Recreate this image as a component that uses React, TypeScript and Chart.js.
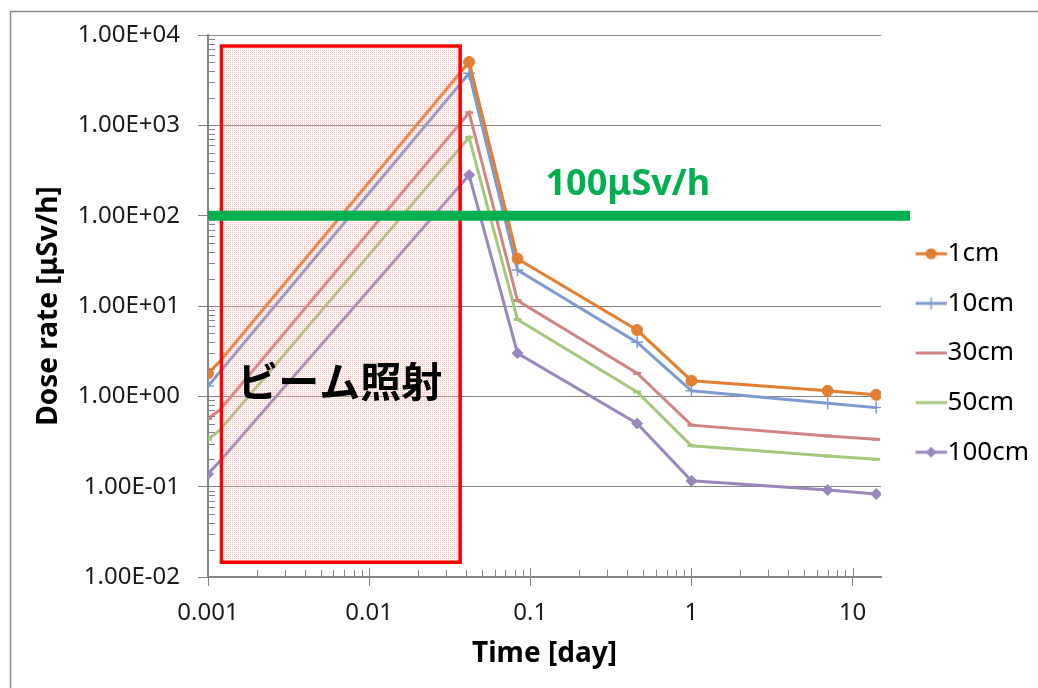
import React, { useEffect, useRef } from "react";
import { Chart, registerables } from "chart.js";

Chart.register(...registerables);

// ---------- data ----------
const TIMES = [0.001, 0.00118, 0.0417, 0.0833, 0.46, 1, 7, 14];
const SERIES_LABELS = ["1cm", "10cm", "30cm", "50cm", "100cm"];
const DOSE_1CM = [1.8, 2.42, 5020, 33.4, 5.42, 1.49, 1.15, 1.04];
const DOSE_10CM = [1.3, 1.85, 3770, 25, 3.96, 1.15, 0.84, 0.75];
const DOSE_30CM = [0.57, 0.7, 1380, 11.5, 1.8, 0.48, 0.364, 0.334];
const DOSE_50CM = [0.334, 0.42, 737, 7.1, 1.12, 0.284, 0.218, 0.201];
const DOSE_100CM = [0.138, 0.19, 282, 3.0, 0.5, 0.116, 0.092, 0.083];
const SERIES_VALUES = [DOSE_1CM, DOSE_10CM, DOSE_30CM, DOSE_50CM, DOSE_100CM];

const X_TICKS = [0.001, 0.01, 0.1, 1, 10];
const Y_TICKS = [0.01, 0.1, 1, 10, 100, 1000, 10000];

// ---------- annotations ----------
const BEAM_START = 0.001212;
const BEAM_END = 0.0367;
const BEAM_TOP = 7550;
const BEAM_BOTTOM = 0.01455;
const BEAM_LABEL = "ビーム照射";
const BEAM_LABEL_POS = { x: 0.00657, y: 1.48 };
const LIMIT_VALUE = 100;
const LIMIT_END = 22.7;
const LIMIT_LABEL = "100μSv/h";
const LIMIT_LABEL_POS = { x: 0.403, y: 218 };

// ---------- styles ----------
const COLORS = ["#E27F33", "#7E9BD0", "#D08584", "#A6C77E", "#9A88BD"];
const POINT_STYLES = ["circle", "cross", "line", "line", "rectRot"];
const POINT_RADII = [5.5, 6, 4, 4, 5.5];
const AXIS_GRAY = "#868686";
const FONT = "'Noto Sans', 'DejaVu Sans', sans-serif";

function fmtSci(v: number): string {
  const e = Math.round(Math.log10(v));
  const m = v / Math.pow(10, e);
  const sign = e < 0 ? "-" : "+";
  const a = Math.abs(e);
  return m.toFixed(2) + "E" + sign + (a < 10 ? "0" + a : String(a));
}

function makeLegendIcon(i: number): HTMLCanvasElement {
  const c = document.createElement("canvas");
  c.width = 54;
  c.height = 16;
  const g = c.getContext("2d")!;
  const col = COLORS[i];
  g.strokeStyle = col;
  g.fillStyle = col;
  g.lineWidth = 3;
  g.beginPath();
  g.moveTo(23, 8);
  g.lineTo(54, 8);
  g.stroke();
  const cx = 38.5;
  const cy = 8;
  if (POINT_STYLES[i] === "circle") {
    g.beginPath();
    g.arc(cx, cy, 5.5, 0, Math.PI * 2);
    g.fill();
  } else if (POINT_STYLES[i] === "cross") {
    g.lineWidth = 1.5;
    g.beginPath();
    g.moveTo(cx, cy - 6);
    g.lineTo(cx, cy + 6);
    g.stroke();
  } else if (POINT_STYLES[i] === "rectRot") {
    g.beginPath();
    g.moveTo(cx, cy - 5.5);
    g.lineTo(cx + 5.5, cy);
    g.lineTo(cx, cy + 5.5);
    g.lineTo(cx - 5.5, cy);
    g.closePath();
    g.fill();
  }
  return c;
}

export default function App() {
  const canvasRef = useRef<HTMLCanvasElement | null>(null);

  useEffect(() => {
    document.body.style.margin = "0";
    const canvas = canvasRef.current;
    if (!canvas) return;

    const pc = document.createElement("canvas");
    pc.width = 2;
    pc.height = 2;
    const pg = pc.getContext("2d")!;
    pg.fillStyle = "rgba(252,200,200,0.18)";
    pg.fillRect(0, 0, 2, 2);
    pg.fillStyle = "rgba(240,110,110,0.42)";
    pg.fillRect(0, 0, 1, 1);

    const icons = SERIES_LABELS.map((_, i) => makeLegendIcon(i));

    const datasets = SERIES_LABELS.map((label, i) => ({
      label,
      data: TIMES.map((t, j) => ({ x: t, y: SERIES_VALUES[i][j] })),
      borderColor: COLORS[i],
      backgroundColor: COLORS[i],
      borderWidth: 3,
      pointStyle: POINT_STYLES[i] as any,
      pointRadius: TIMES.map((_, j) => (j === 1 ? 0 : POINT_RADII[i])),
      pointBorderWidth: POINT_STYLES[i] === "cross" ? 1.5 : POINT_STYLES[i] === "line" ? 3 : 1,
      pointBorderColor: COLORS[i],
      pointBackgroundColor: COLORS[i],
      tension: 0,
    }));

    const overlay = {
      id: "overlay",
      beforeDraw(chart: any) {
        const ctx = chart.ctx;
        ctx.save();
        ctx.strokeStyle = "#8e8e8e";
        ctx.lineWidth = 1.5;
        ctx.beginPath();
        ctx.moveTo(10.5, chart.height);
        ctx.lineTo(10.5, 11.5);
        ctx.lineTo(chart.width, 11.5);
        ctx.stroke();
        ctx.restore();
      },
      afterDatasetsDraw(chart: any) {
        const ctx = chart.ctx;
        const xs = chart.scales.x;
        const ys = chart.scales.y;
        const ca = chart.chartArea;
        ctx.save();
        // beam rectangle
        const x0 = xs.getPixelForValue(BEAM_START);
        const x1 = xs.getPixelForValue(BEAM_END);
        const y0 = ys.getPixelForValue(BEAM_TOP);
        const y1 = ys.getPixelForValue(BEAM_BOTTOM);
        const pat = ctx.createPattern(pc, "repeat");
        ctx.fillStyle = pat;
        ctx.fillRect(x0, y0, x1 - x0, y1 - y0);
        ctx.strokeStyle = "#ff0000";
        ctx.lineWidth = 3.5;
        ctx.strokeRect(x0, y0, x1 - x0, y1 - y0);

        // limit line
        const yl = ys.getPixelForValue(LIMIT_VALUE);
        ctx.strokeStyle = "#00B050";
        ctx.lineWidth = 10;
        ctx.beginPath();
        ctx.moveTo(ca.left, yl);
        ctx.lineTo(xs.getPixelForValue(LIMIT_END), yl);
        ctx.stroke();

        // labels
        ctx.textAlign = "center";
        ctx.textBaseline = "middle";
        ctx.fillStyle = "#00B050";
        ctx.font = "bold 36px " + FONT;
        ctx.fillText(
          LIMIT_LABEL,
          xs.getPixelForValue(LIMIT_LABEL_POS.x),
          ys.getPixelForValue(LIMIT_LABEL_POS.y)
        );
        ctx.fillStyle = "#000000";
        ctx.font = "bold 41px 'Noto Sans CJK JP', sans-serif";
        ctx.fillText(
          BEAM_LABEL,
          xs.getPixelForValue(BEAM_LABEL_POS.x),
          ys.getPixelForValue(BEAM_LABEL_POS.y)
        );
        ctx.restore();
      },
      afterDraw(chart: any) {
        const ctx = chart.ctx;
        const xs = chart.scales.x;
        const ys = chart.scales.y;
        const ca = chart.chartArea;
        ctx.save();
        ctx.strokeStyle = AXIS_GRAY;
        ctx.lineWidth = 1;
        ctx.beginPath();
        // x minor + inner major ticks
        for (let d = -3; d <= 1; d++) {
          for (let k = 1; k <= 9; k++) {
            const v = k * Math.pow(10, d);
            if (v > xs.max) continue;
            const px = Math.round(xs.getPixelForValue(v)) + 0.5;
            if (k === 1 && d === -3) continue;
            const len = k === 1 ? 9 : 7;
            ctx.moveTo(px, ca.bottom);
            ctx.lineTo(px, ca.bottom - len);
          }
        }
        // y minor ticks
        for (let d = -2; d <= 3; d++) {
          for (let k = 2; k <= 9; k++) {
            const v = k * Math.pow(10, d);
            const py = Math.round(ys.getPixelForValue(v)) + 0.5;
            ctx.moveTo(ca.left, py);
            ctx.lineTo(ca.left + 7, py);
          }
        }
        ctx.stroke();
        ctx.restore();
      },
    };

    const chart = new Chart(canvas, {
      type: "line",
      data: { datasets: datasets as any },
      options: {
        animation: false,
        responsive: true,
        maintainAspectRatio: false,
        layout: { padding: { left: 0, top: 35, right: 0, bottom: 17 } },
        scales: {
          x: {
            type: "logarithmic",
            min: 0.001,
            max: 15,
            afterBuildTicks: (scale: any) => {
              scale.ticks = X_TICKS.map((v) => ({ value: v, major: false }));
            },
            afterFit: (scale: any) => {
              scale.height = 94;
            },
            grid: { drawOnChartArea: false, color: AXIS_GRAY, tickLength: 9, lineWidth: 1 },
            border: { color: AXIS_GRAY, width: 2 },
            ticks: {
              autoSkip: false,
              maxRotation: 0,
              padding: 13,
              color: "#1a1a1a",
              font: { family: FONT, size: 24 },
              major: { enabled: false },
              callback: (v: any) => String(v),
            },
            title: {
              display: true,
              text: "Time [day]",
              color: "#000",
              font: { family: FONT, size: 28, weight: "bold", lineHeight: 1.2 },
              padding: { top: 0, bottom: 0.4 },
            },
          },
          y: {
            type: "logarithmic",
            min: 0.01,
            max: 10000,
            afterBuildTicks: (scale: any) => {
              scale.ticks = Y_TICKS.map((v) => ({ value: v, major: false }));
            },
            afterFit: (scale: any) => {
              scale.width = 208;
            },
            grid: { color: AXIS_GRAY, tickLength: 10, lineWidth: 1 },
            border: { color: AXIS_GRAY, width: 2 },
            ticks: {
              padding: 18,
              color: "#1a1a1a",
              font: { family: FONT, size: 24 },
              major: { enabled: false },
              callback: (v: any) => fmtSci(Number(v)),
            },
            title: {
              display: true,
              text: "Dose rate [μSv/h]",
              color: "#000",
              font: { family: FONT, size: 28, weight: "bold", lineHeight: 1.2 },
              padding: { top: 31.8, bottom: 0 },
            },
          },
        },
        plugins: {
          tooltip: { enabled: false },
          legend: {
            display: true,
            position: "right",
            align: "center",
            labels: {
              usePointStyle: true,
              pointStyleWidth: 30,
              padding: 23.6,
              color: "#000",
              font: { family: FONT, size: 26 },
              generateLabels: (ch: any) => {
                const items = (Chart.defaults.plugins.legend.labels as any).generateLabels(ch);
                return items.map((it: any, i: number) => ({ ...it, pointStyle: icons[i] }));
              },
            },
          },
        },
      },
      plugins: [
        {
          id: "legendWidth",
          afterInit(ch: any) {
            const lg = ch.legend;
            if (lg) {
              const orig = lg.fit.bind(lg);
              lg.fit = function () {
                orig();
                this.width = 157;
              };
            }
          },
        },
        overlay,
      ],
    } as any);

    return () => chart.destroy();
  }, []);

  return (
    <div style={{ width: 1038, height: 688, position: "relative" }}>
      <canvas ref={canvasRef} />
    </div>
  );
}
